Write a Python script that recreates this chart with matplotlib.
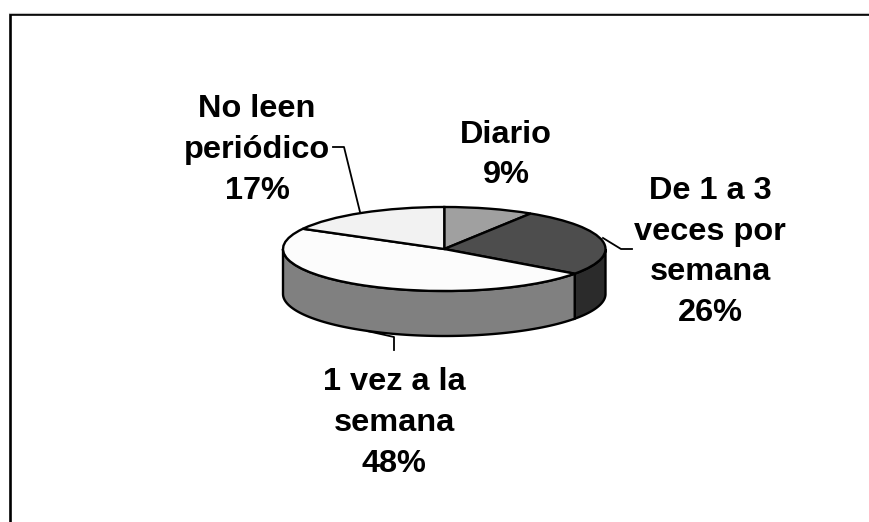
from matplotlib import pyplot as plt
import numpy as np

plt.rcParams['font.family'] = ['Liberation Sans', 'DejaVu Sans']

etiquetas = ['Diario', 'De 1 a 3\nveces por\nsemana', '1 vez a la\nsemana', 'No leen\nperiódico']
porcentajes = [9, 26, 48, 17]
colores_arriba = ['#a0a0a0', '#4d4d4d', '#fcfcfc', '#f2f2f2']
colores_lado = ['#505050', '#2b2b2b', '#808080', '#797979']

W, H = 870, 522
fig = plt.figure(figsize=(W / 100, H / 100), dpi=100, facecolor='white')

# capa en pixeles para marco, textos y lineas guia
capa = fig.add_axes([0, 0, 1, 1], zorder=3)
capa.set_xlim(0, W)
capa.set_ylim(H, 0)
capa.axis('off')
capa.patch.set_alpha(0)

# marco (solo arriba e izquierda se ven)
capa.plot([10, 10, W], [H, 14, 14], color='black', lw=1.9, solid_joinstyle='miter')
capa.plot([9, W], [12.5, 12.5], color='#c0c0c0', lw=0.8)

# pastel: el eje se aplasta para que el circulo quede como elipse
x0, x1, y0, y1 = 283, 605.5, 207, 291
ax = fig.add_axes([x0 / W, 1 - y1 / H, (x1 - x0) / W, (y1 - y0) / H], zorder=2)
ax.pie(porcentajes, colors=colores_arriba, startangle=90, counterclock=False, radius=1,
       wedgeprops=dict(edgecolor='black', linewidth=1.7, zorder=5))
ax.set_aspect('auto')
ax.set_xlim(-1, 1)
ax.set_ylim(-1, 1)

# lado del cilindro, sale de los mismos porcentajes
prof = 45 / 42.0
fin = np.cumsum(porcentajes) * 3.6
ini = fin - np.array(porcentajes) * 3.6
for a, b, c in zip(ini, fin, colores_lado):
    a2, b2 = max(a, 90), min(b, 270)
    if a2 >= b2:
        continue
    t = np.radians(np.linspace(a2, b2, 80))
    xs = np.sin(t)
    ys = np.cos(t)
    px = np.concatenate([xs, xs[::-1]])
    py = np.concatenate([ys, ys[::-1] - prof])
    ax.fill(px, py, facecolor=c, edgecolor='black', linewidth=1.7, clip_on=False, zorder=1)

# lineas guia
capa.plot([333, 344, 360], [147, 147, 212], color='black', lw=1.3)
capa.plot([632, 621, 603], [249, 249, 238], color='black', lw=1.3)
capa.plot([394, 394, 367], [350, 337, 331], color='black', lw=1.3)

# textos
pos_x = [506, 710, 394, 257]
pos_y = [155, 252, 423, 150]
for e, p, x, y in zip(etiquetas, porcentajes, pos_x, pos_y):
    capa.text(x, y, e + '\n' + str(p) + '%', ha='center', va='center', fontsize=23.4,
              fontweight='bold', linespacing=1.46)

fig.savefig('out.png', dpi=100)
